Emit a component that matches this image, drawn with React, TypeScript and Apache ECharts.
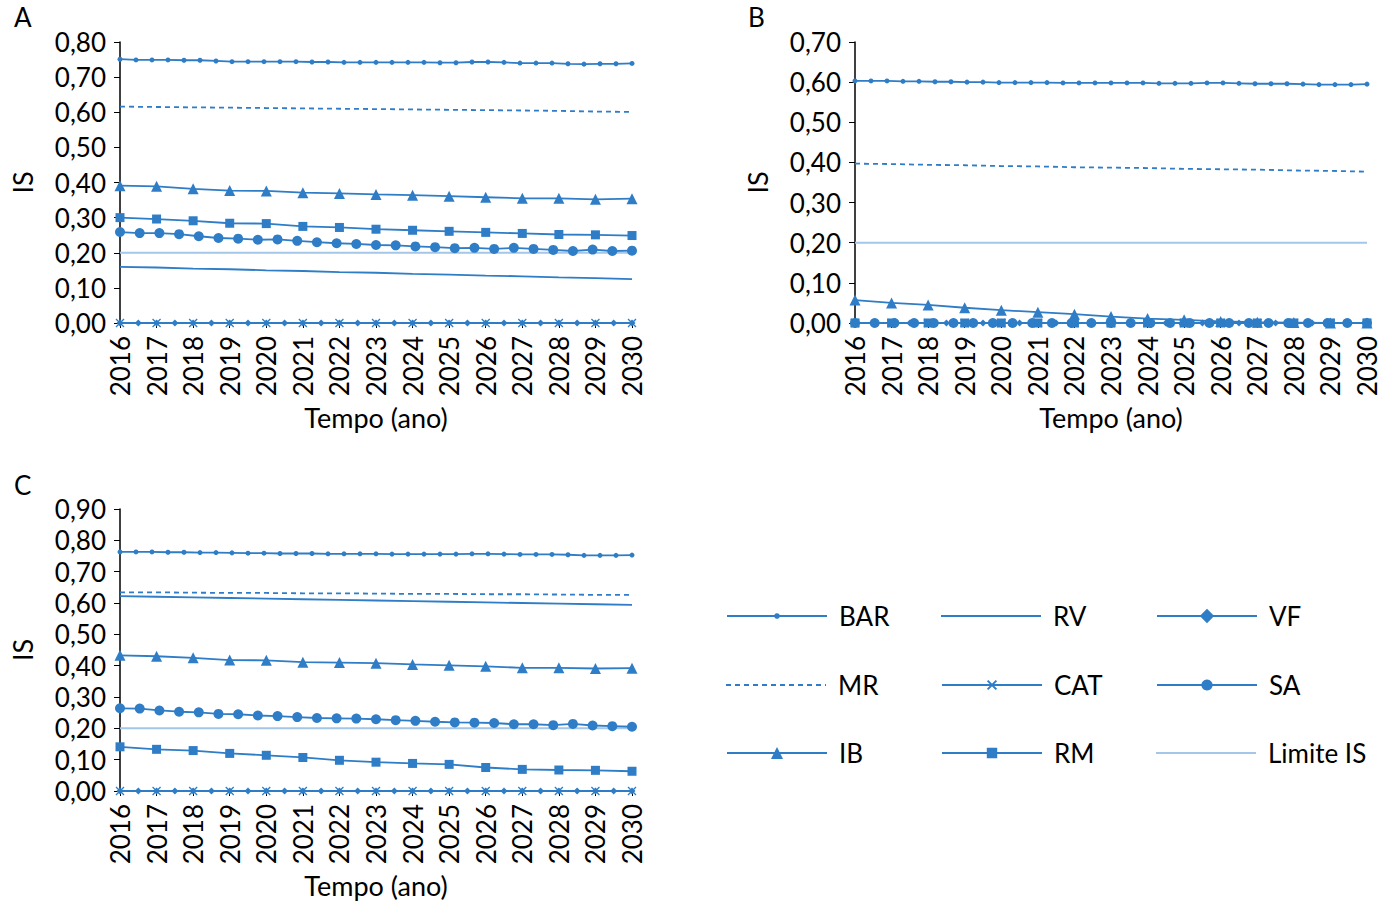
import React, { useEffect, useRef } from "react";
import * as echarts from "echarts";

const YEAR_START = 2016;
const YEAR_END = 2030;
const years = [2016, 2017, 2018, 2019, 2020, 2021, 2022, 2023, 2024, 2025, 2026, 2027, 2028, 2029, 2030];

// ---------- Panel A ----------
const A_BAR = [0.751, 0.749, 0.749, 0.749, 0.748, 0.748, 0.746, 0.744, 0.744, 0.744, 0.744, 0.744, 0.743, 0.743, 0.742, 0.742, 0.742,
  0.742, 0.742, 0.742, 0.741, 0.741, 0.743, 0.743, 0.742, 0.740, 0.740, 0.740, 0.738, 0.737, 0.738, 0.738, 0.739];
const A_MR = [0.616, 0.615, 0.614, 0.613, 0.612, 0.611, 0.610, 0.609, 0.608, 0.607, 0.606, 0.605, 0.604, 0.602, 0.601];
const A_IB = [0.391, 0.389, 0.382, 0.377, 0.376, 0.371, 0.369, 0.366, 0.364, 0.361, 0.358, 0.355, 0.355, 0.352, 0.354];
const A_RV = [0.160, 0.158, 0.155, 0.153, 0.150, 0.148, 0.145, 0.143, 0.140, 0.138, 0.135, 0.133, 0.130, 0.128, 0.125];
const A_CAT = [0, 0, 0, 0, 0, 0, 0, 0, 0, 0, 0, 0, 0, 0, 0];
const A_RM = [0.300, 0.296, 0.291, 0.284, 0.283, 0.275, 0.272, 0.267, 0.264, 0.261, 0.258, 0.255, 0.252, 0.251, 0.249];
const A_VF = [0, 0, 0, 0, 0, 0, 0, 0, 0, 0, 0, 0, 0, 0, 0, 0, 0, 0, 0, 0, 0, 0, 0, 0, 0, 0, 0, 0, 0];
const A_SA = [0.259, 0.256, 0.256, 0.253, 0.247, 0.242, 0.240, 0.237, 0.238, 0.234, 0.230, 0.227, 0.225, 0.222, 0.221, 0.218, 0.216,
  0.213, 0.214, 0.211, 0.214, 0.211, 0.208, 0.205, 0.209, 0.205, 0.206];
const A_LIM = [0.20, 0.20, 0.20, 0.20, 0.20, 0.20, 0.20, 0.20, 0.20, 0.20, 0.20, 0.20, 0.20, 0.20, 0.20];

// ---------- Panel B ----------
const B_BAR = [0.603, 0.603, 0.603, 0.602, 0.602, 0.601, 0.601, 0.600, 0.600, 0.599, 0.599, 0.599, 0.599, 0.598, 0.598, 0.598, 0.598,
  0.598, 0.598, 0.597, 0.597, 0.597, 0.598, 0.598, 0.597, 0.596, 0.596, 0.596, 0.595, 0.594, 0.594, 0.594, 0.595];
const B_MR = [0.397, 0.396, 0.394, 0.393, 0.391, 0.390, 0.388, 0.387, 0.386, 0.384, 0.383, 0.382, 0.380, 0.379, 0.377];
const B_IB = [0.057, 0.050, 0.045, 0.038, 0.032, 0.027, 0.022, 0.016, 0.011, 0.008, 0.004, 0.002, 0.001, 0.000, 0.000];
const B_RV = [0, 0, 0, 0, 0, 0, 0, 0, 0, 0, 0, 0, 0, 0, 0];
const B_CAT = [0, 0, 0, 0, 0, 0, 0, 0, 0, 0, 0, 0, 0, 0, 0];
const B_RM = [0, 0, 0, 0, 0, 0, 0, 0, 0, 0, 0, 0, 0, 0, 0];
const B_VF = [0, 0, 0, 0, 0, 0, 0, 0, 0, 0, 0, 0, 0, 0, 0, 0, 0, 0, 0, 0, 0, 0, 0, 0, 0, 0, 0, 0, 0];
const B_SA = [0, 0, 0, 0, 0, 0, 0, 0, 0, 0, 0, 0, 0, 0, 0, 0, 0, 0, 0, 0, 0, 0, 0, 0, 0, 0, 0];
const B_LIM = [0.20, 0.20, 0.20, 0.20, 0.20, 0.20, 0.20, 0.20, 0.20, 0.20, 0.20, 0.20, 0.20, 0.20, 0.20];

// ---------- Panel C ----------
const C_BAR = [0.763, 0.763, 0.763, 0.762, 0.762, 0.761, 0.761, 0.760, 0.759, 0.759, 0.758, 0.758, 0.758, 0.757, 0.757, 0.757, 0.757,
  0.756, 0.756, 0.756, 0.756, 0.756, 0.757, 0.757, 0.756, 0.755, 0.755, 0.755, 0.754, 0.752, 0.752, 0.752, 0.753];
const C_MR = [0.634, 0.634, 0.633, 0.632, 0.632, 0.631, 0.631, 0.630, 0.629, 0.629, 0.628, 0.628, 0.627, 0.626, 0.626];
const C_IB = [0.433, 0.430, 0.425, 0.418, 0.417, 0.411, 0.410, 0.408, 0.404, 0.401, 0.398, 0.393, 0.393, 0.391, 0.392];
const C_RV = [0.622, 0.620, 0.618, 0.616, 0.614, 0.612, 0.610, 0.608, 0.606, 0.604, 0.602, 0.600, 0.598, 0.596, 0.594];
const C_CAT = [0, 0, 0, 0, 0, 0, 0, 0, 0, 0, 0, 0, 0, 0, 0];
const C_RM = [0.141, 0.133, 0.129, 0.120, 0.114, 0.107, 0.098, 0.092, 0.088, 0.085, 0.075, 0.069, 0.067, 0.066, 0.063];
const C_VF = [0, 0, 0, 0, 0, 0, 0, 0, 0, 0, 0, 0, 0, 0, 0, 0, 0, 0, 0, 0, 0, 0, 0, 0, 0, 0, 0, 0, 0];
const C_SA = [0.264, 0.263, 0.257, 0.253, 0.251, 0.246, 0.245, 0.241, 0.239, 0.236, 0.233, 0.232, 0.231, 0.229, 0.226, 0.224, 0.221,
  0.219, 0.218, 0.217, 0.213, 0.213, 0.210, 0.214, 0.209, 0.207, 0.205];
const C_LIM = [0.20, 0.20, 0.20, 0.20, 0.20, 0.20, 0.20, 0.20, 0.20, 0.20, 0.20, 0.20, 0.20, 0.20, 0.20];

const panelLetters = ["A", "B", "C"];
const yMax = [0.8, 0.7, 0.9];
const xTitle = "Tempo (ano)";
const yTitle = "IS";

const BLUE = "#2E7DC6";
const LIGHT = "#A4C6E8";
const FONT = "Lato";
const CROSS = "path://M0,0L10,10M10,0L0,10";
const LINE_W = 1.8;

// legend icons for series without markers
const SOLID_ICON = "path://M0,0L100,0L100,2L0,2Z";
const dashIcon = (() => {
  let d = "";
  for (let x = 0; x < 100; x += 9) {
    const e = Math.min(x + 5, 100);
    d += `M${x},0L${e},0L${e},2L${x},2Z`;
  }
  return "path://" + d;
})();

const spread = (vals: number[]) =>
  vals.map((v, i) => [YEAR_START + (i * (YEAR_END - YEAR_START)) / (vals.length - 1), v]);

const panels = [
  { BAR: A_BAR, MR: A_MR, IB: A_IB, RV: A_RV, CAT: A_CAT, RM: A_RM, VF: A_VF, SA: A_SA, LIM: A_LIM },
  { BAR: B_BAR, MR: B_MR, IB: B_IB, RV: B_RV, CAT: B_CAT, RM: B_RM, VF: B_VF, SA: B_SA, LIM: B_LIM },
  { BAR: C_BAR, MR: C_MR, IB: C_IB, RV: C_RV, CAT: C_CAT, RM: C_RM, VF: C_VF, SA: C_SA, LIM: C_LIM },
];

const grids = [
  { left: 120, top: 42, width: 512, height: 281 },
  { left: 855, top: 42, width: 512, height: 281 },
  { left: 120, top: 509, width: 512, height: 282 },
];

function buildSeries() {
  const out: any[] = [];
  panels.forEach((p, k) => {
    const base = { type: "line", xAxisIndex: k, yAxisIndex: k, color: BLUE, lineStyle: { width: LINE_W, color: BLUE } };
    out.push({ ...base, name: "Limite IS", data: spread(p.LIM), symbol: "none", color: LIGHT, lineStyle: { width: 2, color: LIGHT }, z: 1 });
    out.push({ ...base, name: "RV", data: spread(p.RV), symbol: "none" });
    out.push({ ...base, name: "MR", data: spread(p.MR), symbol: "none", lineStyle: { width: LINE_W, color: BLUE, type: [5, 4] } });
    out.push({ ...base, name: "BAR", data: spread(p.BAR), symbol: "circle", symbolSize: 5 });
    out.push({ ...base, name: "IB", data: spread(p.IB), symbol: "triangle", symbolSize: 11 });
    out.push({ ...base, name: "RM", data: spread(p.RM), symbol: "rect", symbolSize: 9 });
    out.push({ ...base, name: "SA", data: spread(p.SA), symbol: "circle", symbolSize: 10 });
    out.push({ ...base, name: "VF", data: spread(p.VF), symbol: "diamond", symbolSize: 7 });
    out.push({
      ...base, name: "CAT", data: spread(p.CAT), symbol: CROSS, symbolSize: 8,
      itemStyle: { color: "none", borderColor: BLUE, borderWidth: 1.3 },
    });
  });
  return out;
}

const legendLayout = [
  { name: "BAR", left: 726, row: 0, h: 7 },
  { name: "MR", left: 726, row: 1, h: 2, icon: dashIcon },
  { name: "IB", left: 726, row: 2, h: 15 },
  { name: "RV", left: 941, row: 0, h: 2, icon: SOLID_ICON },
  { name: "CAT", left: 941, row: 1, h: 11 },
  { name: "RM", left: 941, row: 2, h: 13 },
  { name: "VF", left: 1156, row: 0, h: 18 },
  { name: "SA", left: 1156, row: 1, h: 14 },
  { name: "Limite IS", left: 1156, row: 2, h: 2, icon: SOLID_ICON },
];
const rowCenters = [616, 685, 753];

export default function App() {
  const ref = useRef<HTMLDivElement>(null);
  useEffect(() => {
    if (!ref.current) return;
    const chart = echarts.init(ref.current, undefined, { renderer: "svg" });
    const fmt = (v: number) => v.toFixed(2).replace(".", ",");
    const option: any = {
      animation: false,
      backgroundColor: "#ffffff",
      textStyle: { fontFamily: FONT },
      grid: grids,
      xAxis: grids.map((_, k) => ({
        type: "value",
        gridIndex: k,
        min: YEAR_START,
        max: YEAR_END,
        interval: 1,
        axisLine: { show: true, onZero: false, lineStyle: { color: "#000", width: 1.5 } },
        axisTick: { show: true, length: 5, lineStyle: { color: "#000" } },
        splitLine: { show: false },
        axisLabel: { rotate: 90, fontSize: 26, color: "#000", margin: 13, fontFamily: FONT, formatter: (v: number) => String(v) },
      })),
      yAxis: grids.map((_, k) => ({
        type: "value",
        gridIndex: k,
        min: 0,
        max: yMax[k],
        interval: 0.1,
        axisLine: { show: true, lineStyle: { color: "#000", width: 1.5 } },
        axisTick: { show: true, length: 6, lineStyle: { color: "#000" } },
        splitLine: { show: false },
        axisLabel: { fontSize: 26, color: "#000", margin: 14, fontFamily: FONT, formatter: fmt },
      })),
      legend: legendLayout.map((l) => ({
        data: [l.icon ? { name: l.name, icon: l.icon } : l.name],
        left: l.left,
        top: rowCenters[l.row] - 15,
        padding: 0,
        itemWidth: 100,
        itemHeight: l.h,
        selectedMode: false,
        textStyle: { fontSize: 26, color: "#000", fontFamily: FONT, padding: [0, 0, 0, 7], lineHeight: 30 },
      })),
      graphic: [
        ...panelLetters.map((t, k) => ({
          type: "text", left: k === 1 ? 748 : 14, top: k === 2 ? 472 : 4,
          style: { text: t, fontSize: 26, fill: "#000", fontFamily: FONT },
        })),
        ...grids.map((g) => ({
          type: "text", x: g.left - 98, y: g.top + g.height / 2, rotation: Math.PI / 2,
          style: { text: yTitle, fontSize: 27, fill: "#000", fontFamily: FONT, align: "center", verticalAlign: "middle" },
        })),
        ...grids.map((g) => ({
          type: "text", x: g.left + g.width / 2, y: g.top + g.height + 94,
          style: { text: xTitle, fontSize: 27, fill: "#000", fontFamily: FONT, align: "center", verticalAlign: "middle" },
        })),
      ],
      series: buildSeries(),
    };
    chart.setOption(option);
    return () => chart.dispose();
  }, []);
  return <div ref={ref} style={{ position: "absolute", left: 0, top: 0, width: 1389, height: 902 }} />;
}
